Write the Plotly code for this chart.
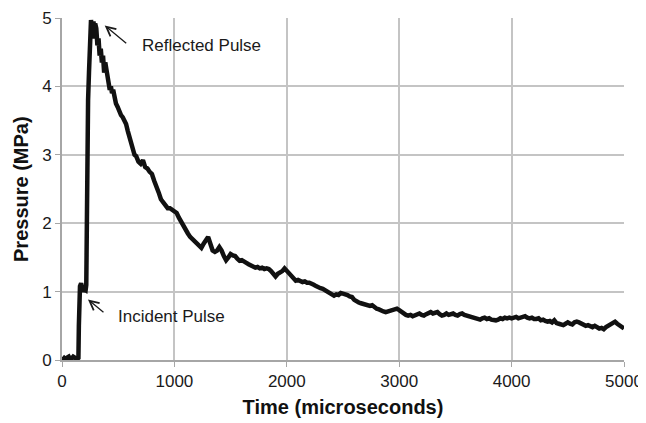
import plotly.graph_objects as go

# ---- data ----
early_time_us = [0, 10, 20, 30, 40, 50, 60, 70, 80, 90, 100, 110, 120, 130, 140, 146,
                 150, 155, 160, 170, 180, 190, 200, 210, 216,
                 220, 225, 232, 240, 250, 258, 265, 272, 280, 288, 295,
                 305, 315, 325, 335, 345, 355, 365, 375, 385, 395,
                 405, 415, 425, 435, 445, 455, 465, 480, 495, 510, 525, 540, 555, 570, 585,
                 600, 615, 630, 645, 660, 680, 700, 720, 740, 760, 780, 800, 820, 840, 860,
                 880, 900, 920, 940, 960, 980]
early_pressure_mpa = [0.02, 0.01, 0.03, 0.02, 0.00, 0.04, 0.05, 0.02, 0.01, 0.03, 0.05, 0.04, 0.02, 0.01, 0.02, 0.03,
                      0.50, 0.95, 1.08, 1.12, 1.05, 1.00, 1.03, 1.02, 1.10,
                      2.50, 3.50, 3.80, 4.20, 4.70, 4.97, 4.85, 4.70, 4.95, 4.78, 4.92,
                      4.85, 4.60, 4.70, 4.45, 4.55, 4.35, 4.45, 4.20, 4.35, 4.25,
                      4.10, 4.05, 3.95, 4.00, 3.90, 3.95, 3.85, 3.75, 3.70, 3.62, 3.58, 3.55, 3.50, 3.45, 3.35,
                      3.25, 3.15, 3.10, 3.00, 2.98, 2.90, 2.87, 2.92, 2.82, 2.80, 2.75, 2.72, 2.62, 2.55, 2.45,
                      2.35, 2.30, 2.25, 2.22, 2.22, 2.20]

late_time_us = list(range(1000, 5001, 20))
late_pressure_mpa = [
    2.18, 2.15, 2.08, 2.02, 1.95, 1.88, 1.85, 1.80, 1.77, 1.73,
    1.70, 1.68, 1.64, 1.70, 1.76, 1.80, 1.70, 1.60, 1.58, 1.60,
    1.65, 1.60, 1.52, 1.46, 1.50, 1.55, 1.53, 1.52, 1.48, 1.45,
    1.46, 1.43, 1.42, 1.40, 1.38, 1.37, 1.35, 1.36, 1.34, 1.35,
    1.33, 1.34, 1.33, 1.30, 1.25, 1.22, 1.26, 1.28, 1.30, 1.34,
    1.30, 1.26, 1.22, 1.18, 1.16, 1.17, 1.15, 1.14, 1.15, 1.13,
    1.13, 1.12, 1.10, 1.08, 1.06, 1.05, 1.04, 1.02, 1.00, 0.98,
    0.95, 0.94, 0.96, 0.95, 0.98, 0.97, 0.97, 0.95, 0.93, 0.92,
    0.88, 0.85, 0.84, 0.83, 0.82, 0.81, 0.80, 0.79, 0.80, 0.77,
    0.75, 0.74, 0.72, 0.71, 0.70, 0.71, 0.72, 0.73, 0.74, 0.75,
    0.73, 0.70, 0.68, 0.66, 0.65, 0.66, 0.64, 0.65, 0.67, 0.68,
    0.66, 0.65, 0.67, 0.69, 0.70, 0.68, 0.69, 0.70, 0.67, 0.65,
    0.66, 0.68, 0.66, 0.67, 0.68, 0.66, 0.65, 0.67, 0.68, 0.66,
    0.65, 0.64, 0.63, 0.62, 0.62, 0.60, 0.59, 0.61, 0.62, 0.60,
    0.61, 0.59, 0.58, 0.58, 0.59, 0.61, 0.60, 0.62, 0.61, 0.62,
    0.61, 0.62, 0.63, 0.61, 0.62, 0.63, 0.64, 0.62, 0.61, 0.62,
    0.60, 0.60, 0.61, 0.58, 0.59, 0.57, 0.56, 0.57, 0.55, 0.58,
    0.54, 0.53, 0.52, 0.51, 0.53, 0.55, 0.53, 0.52, 0.55, 0.56,
    0.55, 0.53, 0.52, 0.50, 0.51, 0.49, 0.48, 0.50, 0.47, 0.46,
    0.47, 0.45, 0.48, 0.50, 0.52, 0.55, 0.56, 0.53, 0.50, 0.47,
    0.46,
]

x_ticks = [0, 1000, 2000, 3000, 4000, 5000]
y_ticks = [0, 1, 2, 3, 4, 5]

reflected_label = "Reflected Pulse"
reflected_head = (380, 4.89)
reflected_text_pos = (692, 4.60)
incident_label = "Incident Pulse"
incident_head = (231, 0.884)
incident_text_pos = (484, 0.642)

time_us = early_time_us + late_time_us
pressure = early_pressure_mpa + late_pressure_mpa

FONT = "Liberation Sans, Arial, Helvetica, sans-serif"

fig = go.Figure()
fig.add_trace(go.Scatter(
    x=time_us, y=pressure, mode="lines",
    line=dict(color="#111111", width=4.5),
    hoverinfo="skip", showlegend=False,
))

axis_common = dict(
    showgrid=True, gridcolor="#c4c4c4", gridwidth=1.5,
    showline=True, linecolor="#a6a6a6", linewidth=2,
    ticks="outside", ticklen=5, tickcolor="#a6a6a6", tickwidth=1,
    zeroline=False, ticklabeloverflow="allow",
    tickfont=dict(family=FONT, size=17, color="#1a1a1a"),
)

title_font = dict(family=FONT, size=20, color="#111111", weight="bold")

fig.update_xaxes(
    range=[0, 5000], tickvals=x_ticks, ticktext=[str(v) for v in x_ticks],
    title=dict(text="Time (microseconds)", font=title_font, standoff=10),
    **axis_common,
)
fig.update_yaxes(
    range=[0, 5], tickvals=y_ticks, ticktext=[str(v) for v in y_ticks],
    **axis_common,
)

ann_font = dict(family=FONT, size=17, color="#1a1a1a")
annotations = [
    dict(x=reflected_head[0], y=reflected_head[1], xref="x", yref="y", text="",
         showarrow=True, arrowhead=5, arrowsize=1.4, arrowwidth=1.3, arrowcolor="#1a1a1a",
         ax=23, ay=19),
    dict(x=reflected_text_pos[0], y=reflected_text_pos[1], xref="x", yref="y",
         text=reflected_label, showarrow=False, xanchor="left", yanchor="middle", font=ann_font),
    dict(x=incident_head[0], y=incident_head[1], xref="x", yref="y", text="",
         showarrow=True, arrowhead=5, arrowsize=1.4, arrowwidth=1.3, arrowcolor="#1a1a1a",
         ax=17, ay=14),
    dict(x=incident_text_pos[0], y=incident_text_pos[1], xref="x", yref="y",
         text=incident_label, showarrow=False, xanchor="left", yanchor="middle", font=ann_font),
    # y-axis title placed explicitly
    dict(x=-0.073, y=0.5, xref="paper", yref="paper", text="Pressure (MPa)",
         textangle=-90, showarrow=False, xanchor="center", yanchor="middle", font=title_font),
]
for a in annotations:
    fig.add_annotation(**a)

# page body adds an 8px offset; size figure to the visible area
fig.update_layout(
    width=638, height=415,
    margin=dict(l=54, r=22, t=10, b=63, autoexpand=False),
    paper_bgcolor="white", plot_bgcolor="white",
    font=dict(family=FONT),
)

fig.write_html("out.html")
